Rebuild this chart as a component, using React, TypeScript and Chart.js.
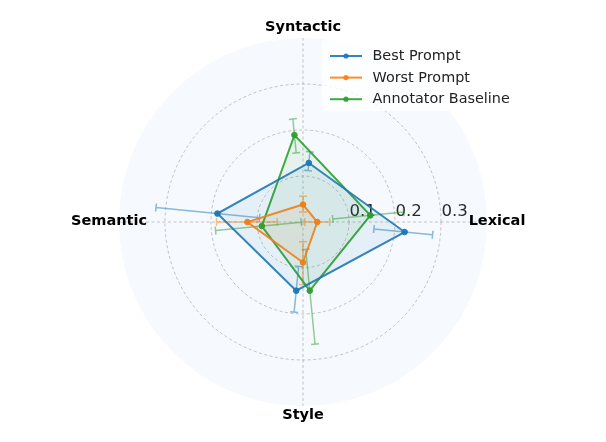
import React, { useEffect, useRef } from "react";
import { Chart, registerables } from "chart.js";

Chart.register(...registerables);

// ---------------- data ----------------
const categories = ["Syntactic", "Lexical", "Style", "Semantic"];
const seriesNames = ["Best Prompt", "Worst Prompt", "Annotator Baseline"];

const bestPrompt = [0.129, 0.222, 0.15, 0.187];
const bestLow = [0.112, 0.155, 0.097, 0.095];
const bestHigh = [0.153, 0.283, 0.197, 0.321];

const worstPrompt = [0.038, 0.031, 0.088, 0.121];
const worstLow = [0.022, 0.004, 0.043, 0.056];
const worstHigh = [0.056, 0.058, 0.136, 0.188];

const annotatorBaseline = [0.19, 0.147, 0.15, 0.09];
const annotatorLow = [0.151, 0.065, 0.06, 0.004];
const annotatorHigh = [0.225, 0.22, 0.267, 0.191];

const radialTicks = [0.1, 0.2, 0.3];
const radialMax = 0.4;

// ---------------- styling ----------------
const colors = ["#1f77b4", "#ff7f0e", "#2ca02c"];
const angleSlots = 64; // angular resolution of the radar
const axisStep = angleSlots / categories.length;
const seriesShift = [1, 0, -1]; // small angular offset per series (≈0.1 rad)

const seriesValues = [bestPrompt, worstPrompt, annotatorBaseline];
const seriesLow = [bestLow, worstLow, annotatorLow];
const seriesHigh = [bestHigh, worstHigh, annotatorHigh];

function rgba(hex: string, a: number) {
  const n = parseInt(hex.slice(1), 16);
  return `rgba(${(n >> 16) & 255},${(n >> 8) & 255},${n & 255},${a})`;
}

function slotOf(cat: number, series: number) {
  return (cat * axisStep + seriesShift[series] + angleSlots) % angleSlots;
}

const slotLabels: string[] = Array.from({ length: angleSlots }, (_, i) =>
  i % axisStep === 0 ? categories[i / axisStep] : ""
);

function buildData(series: number) {
  const arr: (number | null)[] = Array(angleSlots).fill(null);
  seriesValues[series].forEach((v, k) => {
    arr[slotOf(k, series)] = v;
  });
  return arr;
}

const FONT = '"DejaVu Sans", "Liberation Sans", sans-serif';

const overlayPlugin = {
  id: "overlay",
  beforeDatasetsDraw(chart: any) {
    const scale = chart.scales.r;
    const ctx = chart.ctx as CanvasRenderingContext2D;
    // radial tick labels along the Lexical axis
    ctx.save();
    ctx.font = `16.6px ${FONT}`;
    ctx.fillStyle = "#2a2a2a";
    ctx.textAlign = "left";
    ctx.textBaseline = "alphabetic";
    radialTicks.forEach((t) => {
      const d = scale.getDistanceFromCenterForValue(t);
      const p = scale.getPointPosition(axisStep, d);
      ctx.fillText(t.toFixed(1), p.x + 0.5, p.y - 6.5);
    });
    ctx.restore();

    // error bars
    ctx.save();
    ctx.lineWidth = 1.5;
    seriesValues.forEach((vals, s) => {
      ctx.strokeStyle = rgba(colors[s], 0.5);
      vals.forEach((_, k) => {
        const idx = slotOf(k, s);
        const a = scale.getIndexAngle(idx) - Math.PI / 2;
        const px = -Math.sin(a);
        const py = Math.cos(a);
        const p1 = scale.getPointPositionForValue(idx, seriesLow[s][k]);
        const p2 = scale.getPointPositionForValue(idx, seriesHigh[s][k]);
        const cap = 4;
        ctx.beginPath();
        ctx.moveTo(p1.x, p1.y);
        ctx.lineTo(p2.x, p2.y);
        ctx.moveTo(p1.x - px * cap, p1.y - py * cap);
        ctx.lineTo(p1.x + px * cap, p1.y + py * cap);
        ctx.moveTo(p2.x - px * cap, p2.y - py * cap);
        ctx.lineTo(p2.x + px * cap, p2.y + py * cap);
        ctx.stroke();
      });
    });
    ctx.restore();
  },
  afterDatasetsDraw(chart: any) {
    const scale = chart.scales.r;
    const ctx = chart.ctx as CanvasRenderingContext2D;

    // category labels
    ctx.save();
    ctx.font = `bold 14.5px ${FONT}`;
    ctx.fillStyle = "#000";
    ctx.textAlign = "center";
    ctx.textBaseline = "middle";
    categories.forEach((c, k) => {
      const p = scale.getPointPosition(k * axisStep, scale.drawingArea + 10);
      ctx.fillText(c, p.x, p.y - 1);
    });
    ctx.restore();

    // legend
    ctx.save();
    const bx = 322, by = 40, bw = 196, bh = 71, r = 4;
    ctx.fillStyle = "rgba(255,255,255,0.8)";
    ctx.beginPath();
    ctx.moveTo(bx + r, by);
    ctx.lineTo(bx + bw - r, by);
    ctx.quadraticCurveTo(bx + bw, by, bx + bw, by + r);
    ctx.lineTo(bx + bw, by + bh - r);
    ctx.quadraticCurveTo(bx + bw, by + bh, bx + bw - r, by + bh);
    ctx.lineTo(bx + r, by + bh);
    ctx.quadraticCurveTo(bx, by + bh, bx, by + bh - r);
    ctx.lineTo(bx, by + r);
    ctx.quadraticCurveTo(bx, by, bx + r, by);
    ctx.closePath();
    ctx.fill();
    ctx.font = `14.4px ${FONT}`;
    ctx.textAlign = "left";
    ctx.textBaseline = "middle";
    seriesNames.forEach((name, s) => {
      const y = 56 + s * 21.6;
      ctx.strokeStyle = rgba(colors[s], 0.9);
      ctx.lineWidth = 2;
      ctx.beginPath();
      ctx.moveTo(330, y);
      ctx.lineTo(362, y);
      ctx.stroke();
      ctx.fillStyle = rgba(colors[s], 0.9);
      ctx.beginPath();
      ctx.arc(346, y, 2.6, 0, Math.PI * 2);
      ctx.fill();
      ctx.fillStyle = "#222";
      ctx.fillText(name, 372.5, y + 0.5);
    });
    ctx.restore();
  },
};

export default function App() {
  const ref = useRef<HTMLCanvasElement | null>(null);

  useEffect(() => {
    if (!ref.current) return;
    const chart = new Chart(ref.current, {
      type: "radar",
      data: {
        labels: slotLabels,
        datasets: seriesNames.map((name, s) => ({
          label: name,
          data: buildData(s),
          borderColor: rgba(colors[s], 0.9),
          backgroundColor: rgba(colors[s], 0.075),
          pointBackgroundColor: rgba(colors[s], 0.95),
          pointBorderColor: rgba(colors[s], 0.95),
          pointRadius: 2.8,
          pointHoverRadius: 2.8,
          pointBorderWidth: 1,
          borderWidth: 2,
          fill: true,
          spanGaps: true,
          tension: 0,
        })),
      },
      options: {
        responsive: false,
        animation: false,
        layout: { padding: { top: 38, bottom: 36, left: 0, right: 0 } },
        plugins: {
          legend: { display: false },
          tooltip: { enabled: false },
        },
        scales: {
          r: {
            min: 0,
            max: radialMax,
            backgroundColor: "#f6f9fd",
            ticks: { display: false, stepSize: 0.1 },
            pointLabels: { display: false },
            grid: {
              circular: true,
              color: "rgba(150,150,150,0.7)",
              lineWidth: (ctx: any) =>
                ctx.tick && ctx.tick.value >= radialMax - 1e-9 ? 0 : 0.8,
            },
            border: { dash: [3, 2.5] },
            angleLines: {
              display: true,
              color: "rgba(150,150,150,0.7)",
              lineWidth: (ctx: any) => (ctx.index % axisStep === 0 ? 0.8 : 0),
              borderDash: [3, 2.5],
            },
          },
        },
      },
      plugins: [overlayPlugin],
    });
    return () => chart.destroy();
  }, []);

  return (
    <div style={{ position: "absolute", left: 0, top: 0, width: 606, height: 442 }}>
      <canvas ref={ref} width={606} height={442} style={{ display: "block" }} />
    </div>
  );
}
